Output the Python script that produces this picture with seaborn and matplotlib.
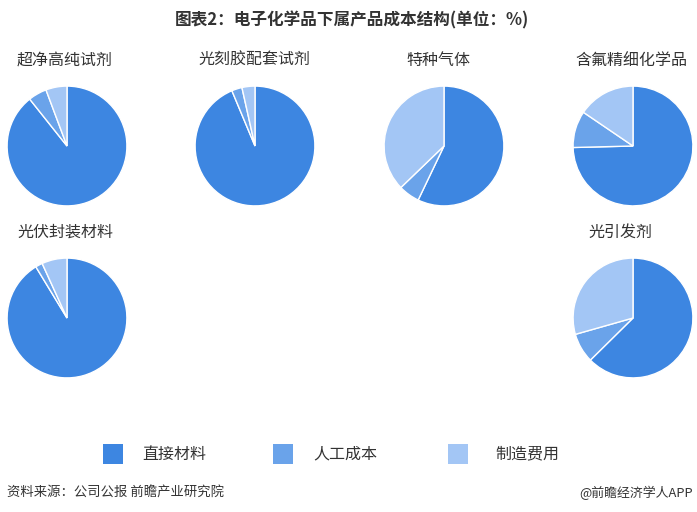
import matplotlib
matplotlib.use("Agg")
import matplotlib.pyplot as plt
import seaborn as sns
from matplotlib.patches import Rectangle

sns.set_theme(style="white")
plt.rcParams['font.family'] = ['Noto Sans CJK SC', 'DejaVu Sans']

categories = ["直接材料", "人工成本", "制造费用"]
products = ["超净高纯试剂", "光刻胶配套试剂", "特种气体", "含氟精细化学品", "光伏封装材料", "光引发剂"]
direct = [89.3, 93.7, 57.1, 74.6, 91.3, 62.6]
labor = [5.0, 2.8, 5.7, 9.9, 1.9, 8.0]
manufacturing = [5.7, 3.5, 37.2, 15.5, 6.8, 29.4]
colors = ["#3d86e1", "#6aa3ea", "#a3c6f5"]

W, H = 697, 512
fig = plt.figure(figsize=(W / 100, H / 100), dpi=100)
fig.patch.set_facecolor("white")

centers = [(67, 146), (255, 146), (444, 146), (633, 146), (67, 318), (633, 318)]
title_pos = [(65, 60), (254, 60), (438, 60), (631, 60), (65, 232), (620, 232)]
r = 60.5

for i, (cx, cy) in enumerate(centers):
    ax = fig.add_axes([(cx - r) / W, 1 - (cy + r) / H, 2 * r / W, 2 * r / H])
    vals = [direct[i], labor[i], manufacturing[i]]
    ax.pie(vals, colors=colors, startangle=90, counterclock=False,
           wedgeprops=dict(edgecolor="white", linewidth=1.0), radius=1)
    ax.set_xlim(-1.01, 1.01)
    ax.set_ylim(-1.01, 1.01)
    ax.set_aspect("equal")
    ax.axis("off")
    tx, ty = title_pos[i]
    fig.text(tx / W, 1 - ty / H, products[i], ha="center", va="center",
             fontsize=11.5, color="#333333")

# Main title
fig.text(352 / W, 1 - 20 / H, "图表2：电子化学品下属产品成本结构(单位：%)", ha="center", va="center",
         fontsize=12, fontweight="bold", color="#333333")

# Legend
leg_sq_x = [103, 273, 448]
leg_tx_x = [142, 313, 495]
for i, cat in enumerate(categories):
    fig.patches.append(Rectangle((leg_sq_x[i] / W, 1 - 464 / H), 20 / W, 20 / H,
                                 transform=fig.transFigure, facecolor=colors[i],
                                 edgecolor="none"))
    fig.text(leg_tx_x[i] / W, 1 - 454 / H, cat, ha="left", va="center",
             fontsize=11.5, color="#333333")

# Footer
fig.text(7 / W, 1 - 493 / H, "资料来源：公司公报 前瞻产业研究院", ha="left", va="center",
         fontsize=9.6, color="#333333")
fig.text(693 / W, 1 - 493 / H, "@前瞻经济学人APP", ha="right", va="center",
         fontsize=9.3, color="#333333")

fig.savefig("out.png", dpi=100, facecolor="white")
